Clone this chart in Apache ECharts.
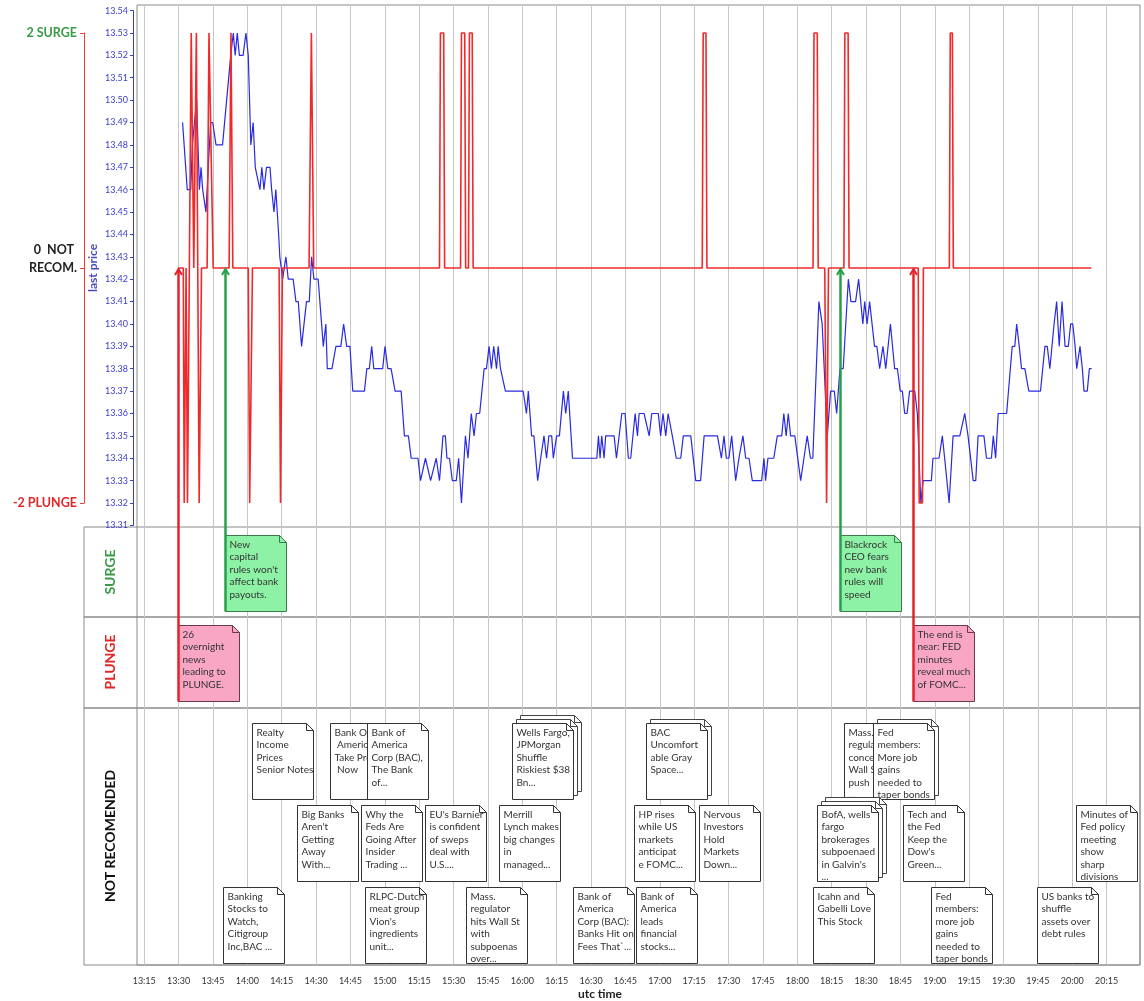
<!DOCTYPE html>
<html><head><meta charset="utf-8">
<script src="https://cdn.jsdelivr.net/npm/echarts@6/dist/echarts.min.js"></script>
<style>html,body{margin:0;padding:0;background:#fff}#c{width:1144px;height:1001px}</style>
</head><body><div id="c"></div>
<script>
// ---------------- DATA ----------------
// time = minutes after 00:00 UTC
const xTickLabels = ['13:15','13:30','13:45','14:00','14:15','14:30','14:45','15:00','15:15','15:30','15:45','16:00','16:15','16:30','16:45','17:00','17:15','17:30','17:45','18:00','18:15','18:30','18:45','19:00','19:15','19:30','19:45','20:00','20:15'];
const signalTicks = [2, 0, -2];
const signalTickNames = ['2 SURGE', '0  NOT|RECOM.', '-2 PLUNGE'];

const priceTimes = [811.1,813.1,814.6,815.3,816.0,817.1,818.3,819.0,819.7,821.1,823.1,824.0,825.4,828.2,831.7,832.8,833.6,834.5,835.4,837.0,838.2,839.2,840.3,841.3,842.2,844.2,845.0,845.9,847.0,848.5,849.2,850.2,851.0,851.6,852.2,852.7,853.9,855.3,856.3,858.4,859.6,860.6,862.0,864.1,865.3,866.3,867.3,869.1,871.3,872.4,873.0,875.0,876.7,878.8,880.0,881.3,882.7,883.9,888.9,889.9,891.0,892.0,892.9,896.7,897.7,898.9,900.3,902.0,904.6,906.0,907.7,908.9,911.8,912.9,915.0,917.2,919.6,921.0,922.5,923.5,924.2,925.3,926.5,928.2,929.2,930.4,932.1,933.2,934.6,935.8,936.8,938.2,940.1,941.1,942.2,943.2,944.2,945.4,946.1,947.1,947.8,949.2,956.8,958.2,959.0,960.4,961.4,963.0,964.3,965.7,966.8,967.8,969.0,969.7,971.1,972.3,974.0,975.0,976.1,977.9,988.3,989.0,989.7,990.4,991.4,992.1,995.7,996.7,999.0,1000.4,1001.8,1002.8,1004.7,1005.7,1006.4,1008.5,1010.7,1011.8,1014.6,1015.6,1016.6,1017.8,1018.8,1019.6,1020.6,1022.3,1024.2,1025.3,1028.5,1030.6,1032.7,1034.2,1039.9,1041.6,1042.7,1043.7,1044.8,1046.0,1047.7,1049.1,1050.8,1052.0,1053.4,1054.8,1058.8,1059.8,1060.5,1061.5,1064.0,1065.5,1067.4,1068.3,1069.3,1070.2,1071.2,1073.0,1075.5,1076.9,1078.3,1079.7,1080.7,1083.3,1084.7,1086.9,1088.3,1089.9,1090.9,1092.3,1093.7,1095.9,1097.0,1099.0,1100.3,1101.1,1102.1,1102.9,1103.9,1105.0,1107.1,1108.1,1109.3,1110.7,1111.9,1113.9,1115.7,1116.9,1118.1,1119.0,1120.0,1121.0,1122.1,1124.3,1125.4,1126.9,1127.9,1131.4,1132.1,1134.7,1136.1,1137.1,1139.0,1140.7,1141.9,1143.6,1145.7,1147.1,1149.3,1150.4,1151.4,1153.9,1155.0,1157.1,1157.9,1158.9,1160.0,1163.6,1166.0,1167.1,1167.9,1169.0,1170.0,1171.4,1173.1,1178.1,1180.0,1181.0,1182.1,1183.9,1185.0,1186.1,1187.3,1188.6,1190.0,1191.0,1191.9,1192.9,1193.6,1195.0,1196.0,1196.7,1198.1,1199.0,1200.0];
const priceValues = [13.49,13.46,13.46,13.48,13.48,13.50,13.46,13.47,13.46,13.45,13.49,13.49,13.48,13.48,13.52,13.53,13.52,13.53,13.52,13.52,13.53,13.52,13.48,13.49,13.47,13.46,13.47,13.46,13.47,13.47,13.46,13.45,13.46,13.45,13.44,13.43,13.42,13.43,13.42,13.42,13.41,13.41,13.39,13.41,13.41,13.43,13.42,13.42,13.39,13.40,13.38,13.38,13.39,13.39,13.40,13.39,13.39,13.37,13.37,13.38,13.38,13.39,13.38,13.38,13.39,13.38,13.38,13.37,13.37,13.35,13.35,13.34,13.34,13.33,13.34,13.33,13.34,13.33,13.35,13.35,13.34,13.34,13.33,13.33,13.34,13.32,13.35,13.34,13.36,13.35,13.36,13.36,13.38,13.38,13.39,13.38,13.39,13.38,13.39,13.38,13.38,13.37,13.37,13.36,13.37,13.35,13.35,13.33,13.34,13.35,13.34,13.35,13.35,13.34,13.35,13.35,13.37,13.36,13.37,13.34,13.34,13.35,13.34,13.35,13.34,13.35,13.35,13.34,13.36,13.36,13.34,13.34,13.36,13.35,13.36,13.36,13.35,13.36,13.36,13.35,13.36,13.35,13.36,13.36,13.35,13.34,13.34,13.35,13.35,13.33,13.33,13.35,13.35,13.34,13.35,13.34,13.34,13.35,13.33,13.34,13.35,13.34,13.34,13.33,13.33,13.34,13.33,13.34,13.34,13.35,13.35,13.36,13.35,13.36,13.35,13.35,13.33,13.34,13.35,13.34,13.34,13.41,13.40,13.35,13.37,13.37,13.36,13.38,13.38,13.42,13.41,13.41,13.42,13.42,13.40,13.41,13.40,13.41,13.39,13.39,13.38,13.39,13.38,13.40,13.38,13.38,13.37,13.37,13.36,13.36,13.37,13.37,13.36,13.32,13.33,13.33,13.34,13.34,13.35,13.34,13.32,13.35,13.35,13.35,13.36,13.35,13.33,13.33,13.35,13.35,13.34,13.34,13.35,13.34,13.36,13.36,13.39,13.39,13.40,13.39,13.38,13.38,13.37,13.37,13.39,13.39,13.38,13.40,13.41,13.39,13.41,13.39,13.39,13.40,13.40,13.39,13.38,13.39,13.38,13.37,13.37,13.38,13.38];

const signalTimes = [809.2,811.4,811.8,812.6,813.2,814.8,815.9,817.0,818.2,819.2,821.6,822.4,823.2,824.2,831.0,831.8,832.6,839.2,839.8,840.4,841.0,852.4,853.0,853.8,865.2,866.2,867.2,921.0,921.4,922.8,923.2,930.0,930.4,931.8,932.2,933.4,933.8,935.0,935.4,1033.4,1033.8,1035.0,1035.4,1080.8,1081.2,1082.6,1083.0,1085.8,1086.6,1087.4,1094.0,1094.4,1095.8,1096.2,1125.8,1126.2,1127.6,1128.0,1139.1,1139.5,1140.4,1140.8,1199.8];
const signalValues = [0,0,-2,0,-2,2,0,2,-2,0,0,2,2,0,0,2,0,0,-2,-2,0,0,-2,0,0,2,0,0,2,2,0,0,2,2,0,0,2,2,0,0,2,2,0,0,2,2,0,0,-2,0,0,2,2,0,0,-2,-2,0,0,2,2,0,0];

const surgeTimes = [829.3, 1092.3];
const surgeTexts = ["New\ncapital\nrules won't\naffect bank\npayouts.", "Blackrock\nCEO fears\nnew bank\nrules will\nspeed"];
const plungeTimes = [809.1, 1123.6];
const plungeTexts = ["26\novernight\nnews\nleading to\nPLUNGE.", "The end is\nnear: FED\nminutes\nreveal much\nof FOMC..."];

// news not recommended: time, row, number of stacked items, headline
const nrTimes  = [840.8, 874.2, 890.0, 952.0, 1009.3, 1094.0, 1106.4, 860.0, 887.4, 914.8, 946.5, 1004.2, 1032.0, 1082.5, 1119.3, 1193.3, 828.4, 889.1, 932.3, 978.1, 1005.1, 1080.8, 1131.3, 1176.6];
const nrRows   = [0,0,0,0,0,0,0, 1,1,1,1,1,1,1,1,1, 2,2,2,2,2,2,2,2];
const nrLayers = [1,1,1,3,2,1,2, 1,1,1,1,1,1,3,1,1, 1,1,1,1,1,1,1,1];
const nrTexts  = [
 "Realty\nIncome\nPrices\nSenior Notes",
 "Bank Of\n America\nTake Profits\n Now",
 "Bank of\nAmerica\nCorp (BAC),\nThe Bank\nof...",
 "Wells Fargo,\nJPMorgan\nShuffle\nRiskiest $38\nBn...",
 "BAC\nUncomfort\nable Gray\nSpace...",
 "Mass.\nregulator\nconcerned\nWall St\npush\n...",
 "Fed\nmembers:\nMore job\ngains\nneeded to\ntaper bonds",
 "Big Banks\nAren't\nGetting\nAway\nWith...",
 "Why the\nFeds Are\nGoing After\nInsider\nTrading ...",
 "EU's Barnier\nis confident\nof sweps\ndeal with\nU.S....",
 "Merrill\nLynch makes\nbig changes\nin\nmanaged...",
 "HP rises\nwhile US\nmarkets\nanticipat\ne FOMC...",
 "Nervous\nInvestors\nHold\nMarkets\nDown...",
 "BofA, wells\nfargo\nbrokerages\nsubpoenaed\nin Galvin's\n...",
 "Tech and\nthe Fed\nKeep the\nDow's\nGreen...",
 "Minutes of\nFed policy\nmeeting\nshow\nsharp\ndivisions",
 "Banking\nStocks to\nWatch,\nCitigroup\nInc,BAC ...",
 "RLPC-Dutch\nmeat group\nVion's\ningredients\nunit...",
 "Mass.\nregulator\nhits Wall St\nwith\nsubpoenas\nover...",
 "Bank of\nAmerica\nCorp (BAC):\nBanks Hit on\nFees That`...",
 "Bank of\nAmerica\nleads\nfinancial\nstocks...",
 "Icahn and\nGabelli Love\nThis Stock",
 "Fed\nmembers:\nmore job\ngains\nneeded to\ntaper bonds",
 "US banks to\nshuffle\nassets over\ndebt rules"
];

// ---------------- LAYOUT ----------------
const X0 = 180, T0 = 810, K = 2.3377;           // px of 13:30 and px per minute
const FL = 137, FR = 1140, FT = 5, FB = 965;     // plot frame
const tAt = px => T0 + (px - X0) / K;
const SIG_T = 33, SIG_H = 470, BASE_Y = SIG_T + SIG_H / 2;
const NW = 61, NH = 76, NF = 7;
const FONT = 'Lato, "Open Sans", sans-serif';

function notePoly(x, y, fill, stroke) {
  return {type:'polygon', shape:{points:[[x,y],[x+NW-NF,y],[x+NW,y+NF],[x+NW,y+NH],[x,y+NH]]},
          style:{fill:fill, stroke:stroke, lineWidth:1}};
}
function noteFold(x, y, stroke) {
  return {type:'polyline', shape:{points:[[x+NW-NF,y],[x+NW-NF,y+NF],[x+NW,y+NF]]},
          style:{fill:null, stroke:stroke, lineWidth:1}};
}
function noteText(x, y, txt, color) {
  return {type:'text', x:x+4, y:y+3, style:{text:txt, fill:color, fontSize:10, fontFamily:FONT,
          lineHeight:12.4, align:'left', verticalAlign:'top', textAlign:'left', textVerticalAlign:'top'}};
}
function flagRender(texts, fill, stroke, arrowColor) {
  return function (params, api) {
    const i = params.dataIndex;
    const p = api.coord([api.value(0), api.value(1)]);
    const x = Math.round(p[0]) + 0.5, y = Math.round(p[1]) + 0.5;
    const ch = [notePoly(x, y, fill, stroke), noteFold(x, y, stroke), noteText(x, y, texts[i], '#333'),
      {type:'line', shape:{x1:x, y1:y+NH, x2:x, y2:BASE_Y+2}, style:{stroke:arrowColor, lineWidth:2.5}},
      {type:'polyline', shape:{points:[[x-3.5,BASE_Y+7],[x,BASE_Y+1],[x+3.5,BASE_Y+7]]}, style:{fill:null, stroke:arrowColor, lineWidth:2}}];
    ch.forEach((c, k) => c.z2 = i * 20 + k);
    return {type:'group', children:ch};
  };
}
function nrRender(params, api) {
  const i = params.dataIndex;
  const p = api.coord([api.value(0), api.value(1)]);
  const x = Math.round(p[0]) + 0.5, y = Math.round(p[1]) + 0.5;
  const ch = [];
  for (let k = nrLayers[i] - 1; k >= 1; k--) {
    ch.push(notePoly(x + 4*k, y - 4*k, '#fff', '#444'), noteFold(x + 4*k, y - 4*k, '#444'));
  }
  ch.push(notePoly(x, y, '#fff', '#333'), noteFold(x, y, '#333'), noteText(x, y, nrTexts[i], '#333'));
  ch.forEach((c, k) => c.z2 = i * 20 + k);
  return {type:'group', children:ch};
}

const hidX = (g, left) => ({gridIndex:g, type:'value', show:false, min:tAt(left), max:tAt(FR)});
const sigRich = {
  g:{color:'#3a9a48', fontWeight:'bold', fontSize:12.5, fontFamily:FONT, lineHeight:18},
  k:{color:'#222', fontWeight:'bold', fontSize:12.5, fontFamily:FONT, lineHeight:18},
  r:{color:'#e02828', fontWeight:'bold', fontSize:12.5, fontFamily:FONT, lineHeight:18}
};

const option = {
  animation:false,
  backgroundColor:'#fff',
  grid:[
    {left:FL, top:FT, width:FR-FL, height:FB-FT, show:true, borderColor:'#8a8a8a', borderWidth:1},
    {left:X0+(780-T0)*K, width:(1230-780)*K, top:FT, height:FB-FT},
    {left:FL, width:FR-FL, top:10.6, height:514.8},
    {left:FL, width:FR-FL, top:SIG_T, height:SIG_H},
    {left:84, width:FR-84, top:527, height:90, show:true, borderColor:'#8a8a8a'},
    {left:84, width:FR-84, top:617, height:91, show:true, borderColor:'#8a8a8a'},
    {left:84, width:FR-84, top:708, height:257, show:true, borderColor:'#8a8a8a'}
  ],
  xAxis:[
    {gridIndex:0, type:'value', show:false, min:0, max:1},
    {gridIndex:1, type:'value', min:780, max:1230, interval:15,
     axisLine:{show:false}, axisTick:{show:false},
     axisLabel:{fontSize:9, color:'#333', fontFamily:FONT, margin:12,
       formatter:v => { const i = Math.round((v-795)/15); return (i>=0 && i<xTickLabels.length) ? xTickLabels[i] : ''; }},
     splitLine:{show:true, showMinLine:false, showMaxLine:false, lineStyle:{color:'#c6c6c6', width:1}}},
    hidX(2, FL), hidX(3, FL), hidX(4, 84), hidX(5, 84), hidX(6, 84)
  ],
  yAxis:[
    {gridIndex:0, type:'value', show:false, min:0, max:1},
    {gridIndex:1, type:'value', show:false, min:0, max:1},
    {gridIndex:2, type:'value', min:13.31, max:13.54, interval:0.01, offset:4,
     axisLine:{show:true, lineStyle:{color:'#3c3cc8'}}, axisTick:{show:true, length:3, lineStyle:{color:'#3c3cc8'}},
     axisLabel:{fontSize:9, color:'#3c3cc8', fontFamily:FONT, margin:5, formatter:v => v.toFixed(2)},
     splitLine:{show:false},
     name:'last price', nameLocation:'middle', nameGap:34, nameMoveOverlap:false,
     nameTextStyle:{color:'#4a4ac0', fontWeight:'bold', fontSize:12, fontFamily:FONT}},
    {gridIndex:3, type:'value', min:-2, max:2, interval:2, offset:FL-84,
     axisLine:{show:true, lineStyle:{color:'#e84040'}}, axisTick:{show:true, length:4, lineStyle:{color:'#e84040'}},
     axisLabel:{margin:7, rich:sigRich, formatter:v => {
        const i = signalTicks.indexOf(v); if (i < 0) return '';
        const nm = signalTickNames[i];
        if (v > 0) return '{g|' + nm + '}';
        if (v < 0) return '{r|' + nm + '}';
        const parts = nm.split('|');
        return '{k|' + parts[0] + ' }\n{k|' + parts[1] + '}\n{k| }';
     }},
     splitLine:{show:false}},
    {gridIndex:4, type:'value', show:false, min:-0.1, max:1, inverse:true},
    {gridIndex:5, type:'value', show:false, min:-0.1, max:1, inverse:true},
    {gridIndex:6, type:'value', show:false, min:-0.18, max:2.95, inverse:true}
  ],
  graphic:[
    {type:'text', x:110, y:572, rotation:Math.PI/2, style:{text:'SURGE', fill:'#3a9a48', font:'bold 14px ' + FONT, align:'center', verticalAlign:'middle'}},
    {type:'text', x:110, y:662, rotation:Math.PI/2, style:{text:'PLUNGE', fill:'#e02828', font:'bold 14px ' + FONT, align:'center', verticalAlign:'middle'}},
    {type:'text', x:110, y:836, rotation:Math.PI/2, style:{text:'NOT RECOMENDED', fill:'#111', font:'bold 14px ' + FONT, align:'center', verticalAlign:'middle'}},
    {type:'text', x:600, y:994, style:{text:'utc time', fill:'#222', font:'bold 12px ' + FONT, align:'center', verticalAlign:'middle'}}
  ],
  series:[
    {type:'line', xAxisIndex:2, yAxisIndex:2, data:priceTimes.map((t,i)=>[t, priceValues[i]]),
     showSymbol:false, symbol:'none', clip:false, z:3, lineStyle:{color:'#2a2ae0', width:1.2}},
    {type:'line', xAxisIndex:3, yAxisIndex:3, data:signalTimes.map((t,i)=>[t, signalValues[i]]),
     showSymbol:false, symbol:'none', clip:false, z:4, lineStyle:{color:'#f02a2a', width:1.6}},
    {type:'custom', xAxisIndex:4, yAxisIndex:4, z:6, data:surgeTimes.map(t=>[t,0]),
     renderItem:flagRender(surgeTexts, '#8ef2a6', '#3c7a4a', '#27a04a')},
    {type:'custom', xAxisIndex:5, yAxisIndex:5, z:6, data:plungeTimes.map(t=>[t,0]),
     renderItem:flagRender(plungeTexts, '#f8a6c4', '#6a3a4a', '#e8202a')},
    {type:'custom', xAxisIndex:6, yAxisIndex:6, z:5, data:nrTimes.map((t,i)=>[t, nrRows[i]]),
     renderItem:nrRender}
  ]
};
const chart = echarts.init(document.getElementById('c'));
chart.setOption(option);
</script></body></html>
